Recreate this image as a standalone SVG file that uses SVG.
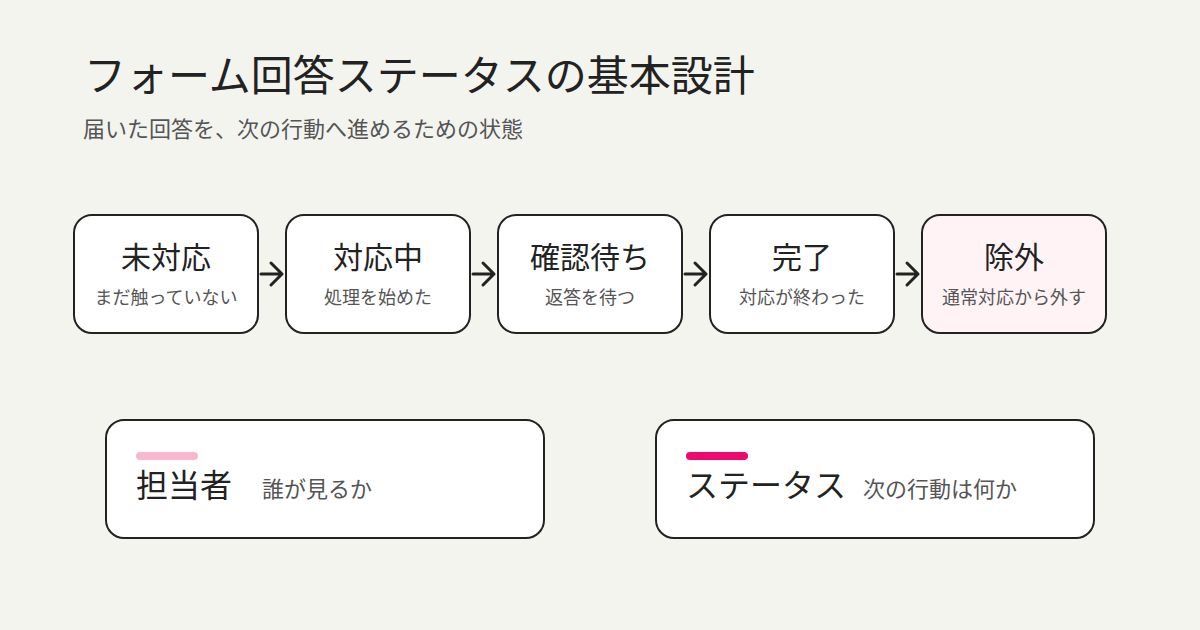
<svg xmlns="http://www.w3.org/2000/svg" width="1200" height="630" viewBox="0 0 1200 630">
<style>
text{font-family:"Noto Sans CJK JP","Noto Sans",sans-serif}
.box{fill:#fff;stroke:#222;stroke-width:2}
.t{font-size:30px;fill:#222;text-anchor:middle}
.s{font-size:18px;fill:#555;text-anchor:middle}
.arr{fill:none;stroke:#222;stroke-width:3;stroke-linecap:round;stroke-linejoin:round}
.big{font-size:32px;fill:#222}
.mid{font-size:22px;fill:#555}
</style>
<rect width="1200" height="630" fill="#F4F4EF"/>
<g id="header">
<text x="84" y="91" style="font-size:42px;fill:#222">フォーム回答ステータスの基本設計</text>
<text x="83" y="137" style="font-size:22px;fill:#555">届いた回答を、次の行動へ進めるための状態</text>
</g>
<g id="connectors">
<path class="arr" d="M261 274H282M271 263L282 274L271 285"/>
<path class="arr" d="M473 274H494M483 263L494 274L483 285"/>
<path class="arr" d="M685 274H706M695 263L706 274L695 285"/>
<path class="arr" d="M897 274H918M907 263L918 274L907 285"/>
</g>
<g id="n1"><rect class="box" x="74" y="215" width="184" height="118" rx="18"/><text class="t" x="166" y="268">未対応</text><text class="s" x="166" y="304">まだ触っていない</text></g>
<g id="n2"><rect class="box" x="286" y="215" width="184" height="118" rx="18"/><text class="t" x="378" y="268">対応中</text><text class="s" x="378" y="304">処理を始めた</text></g>
<g id="n3"><rect class="box" x="498" y="215" width="184" height="118" rx="18"/><text class="t" x="590" y="268">確認待ち</text><text class="s" x="590" y="304">返答を待つ</text></g>
<g id="n4"><rect class="box" x="710" y="215" width="184" height="118" rx="18"/><text class="t" x="802" y="268">完了</text><text class="s" x="802" y="304">対応が終わった</text></g>
<g id="n5"><rect class="box" x="922" y="215" width="184" height="118" rx="18" style="fill:#FFF3F6"/><text class="t" x="1014" y="268">除外</text><text class="s" x="1014" y="304">通常対応から外す</text></g>
<g id="card1"><rect class="box" x="106" y="420" width="438" height="118" rx="18"/><rect x="136" y="452" width="62" height="8" rx="4" fill="#F9B6CF"/><text class="big" x="136" y="497">担当者</text><text class="mid" x="262" y="497">誰が見るか</text></g>
<g id="card2"><rect class="box" x="656" y="420" width="438" height="118" rx="18"/><rect x="686" y="452" width="62" height="8" rx="4" fill="#EE0A6E"/><text class="big" x="686" y="497">ステータス</text><text class="mid" x="863" y="497">次の行動は何か</text></g>
</svg>
